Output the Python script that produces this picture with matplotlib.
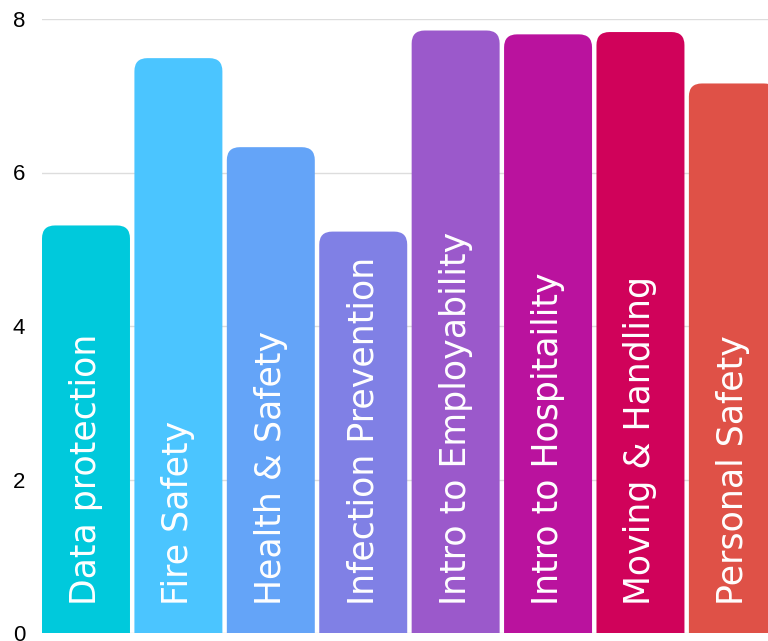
import matplotlib
matplotlib.use('Agg')
import matplotlib.pyplot as plt
from matplotlib.patches import FancyBboxPatch

# course names and values
courses = ['Data protection', 'Fire Safety', 'Health & Safety', 'Infection Prevention',
           'Intro to Employability', 'Intro to Hospitaility', 'Moving & Handling', 'Personal Safety']
values = [5.31, 7.49, 6.33, 5.23, 7.85, 7.80, 7.83, 7.16]
colors = ['#00C9DC', '#4BC5FF', '#64A4F8', '#8080E5', '#9B59CB', '#BA129E', '#D0025A', '#DF5147']
yticks = [0, 2, 4, 6, 8]

fig = plt.figure(figsize=(7.68, 6.41), dpi=100)
ax = fig.add_axes([42 / 768, 8 / 641, 1 - 42 / 768, (633 - 19) / 641])

bar_w = 0.952
xmin, xmax = -bar_w / 2, 7.38
ax.set_xlim(xmin, xmax)
ax.set_ylim(0, 8)

# pixels per data unit, used to keep corners round
px_x = 726 / (xmax - xmin)
px_y = 614 / 8
r_px = 13
rx = r_px / px_x

bars = ax.bar(range(len(values)), values, width=bar_w, color='none', zorder=2)
for b, c, name in zip(bars, colors, courses):
    x, h, w = b.get_x(), b.get_height(), b.get_width()
    # extend below zero so only the top corners show rounded
    p = FancyBboxPatch((x, -1), w, h + 1,
                       boxstyle=f'round,pad=0,rounding_size={rx}',
                       mutation_aspect=px_x / px_y,
                       facecolor=c, edgecolor='none', zorder=3)
    ax.add_patch(p)
    ax.text(x + w / 2, 0.37, name, rotation=90, ha='center', va='bottom',
            color='white', fontsize=25, family='DejaVu Sans', zorder=4)

ax.set_yticks(yticks)
ax.set_xticks([])
ax.grid(axis='y', color='#dddddd', linewidth=1, zorder=0)
ax.set_axisbelow(True)
for s in ax.spines.values():
    s.set_visible(False)
ax.tick_params(axis='y', length=0, pad=12, labelsize=16)
for lab in ax.get_yticklabels():
    lab.set_family('Liberation Sans')

fig.savefig('out.png', dpi=100)
